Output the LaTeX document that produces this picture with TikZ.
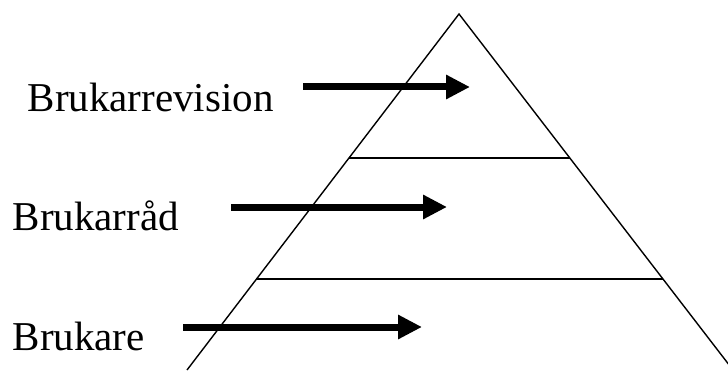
\documentclass[tikz,border=0pt]{standalone}
\usepackage{fontspec}
\setmainfont{Liberation Serif}
\usepackage{tikz}
\usetikzlibrary{calc, arrows.meta, positioning}

\tikzset{
    nhan/.style={anchor=base west, inner sep=0pt, font=\fontsize{41}{49}\selectfont},
    muiten/.style={line width=7pt, -{Triangle[length=24pt, width=23pt]}},
}

\begin{document}
\begin{tikzpicture}[x=1pt, y=1pt, line width=1.4pt]
    \useasboundingbox (0,0) rectangle (728,370);
    \clip (0,0) rectangle (728,370);

    % Tam giác
    \coordinate (dinh) at (459,356);
    \coordinate (trai) at (187,0);
    \coordinate (phai) at (733,0);
    \draw (trai) -- (dinh) -- (phai);

    % Các tầng
    \coordinate (t1) at ($(dinh)!0.4045!(trai)$);
    \coordinate (p1) at ($(dinh)!0.4045!(phai)$);
    \coordinate (t2) at ($(dinh)!0.744!(trai)$);
    \coordinate (p2) at ($(dinh)!0.744!(phai)$);
    \draw (t1) -- (p1);
    \draw (t2) -- (p2);

    % Nhãn
    \node[nhan] (revision) at (27,258) {Brukarrevision};
    \node[nhan] (rad) at (12,140) {Brukarråd};
    \node[nhan] (brukare) at (12,20) {Brukare};

    % Mũi tên
    \coordinate (a1) at (303,283);
    \coordinate (b1) at (470,283);
    \coordinate (a2) at (231,163);
    \coordinate (b2) at (447,163);
    \coordinate (a3) at (183,43);
    \coordinate (b3) at (422,43);
    \draw[muiten] (a1) -- (b1);
    \draw[muiten] (a2) -- (b2);
    \draw[muiten] (a3) -- (b3);
\end{tikzpicture}
\end{document}
